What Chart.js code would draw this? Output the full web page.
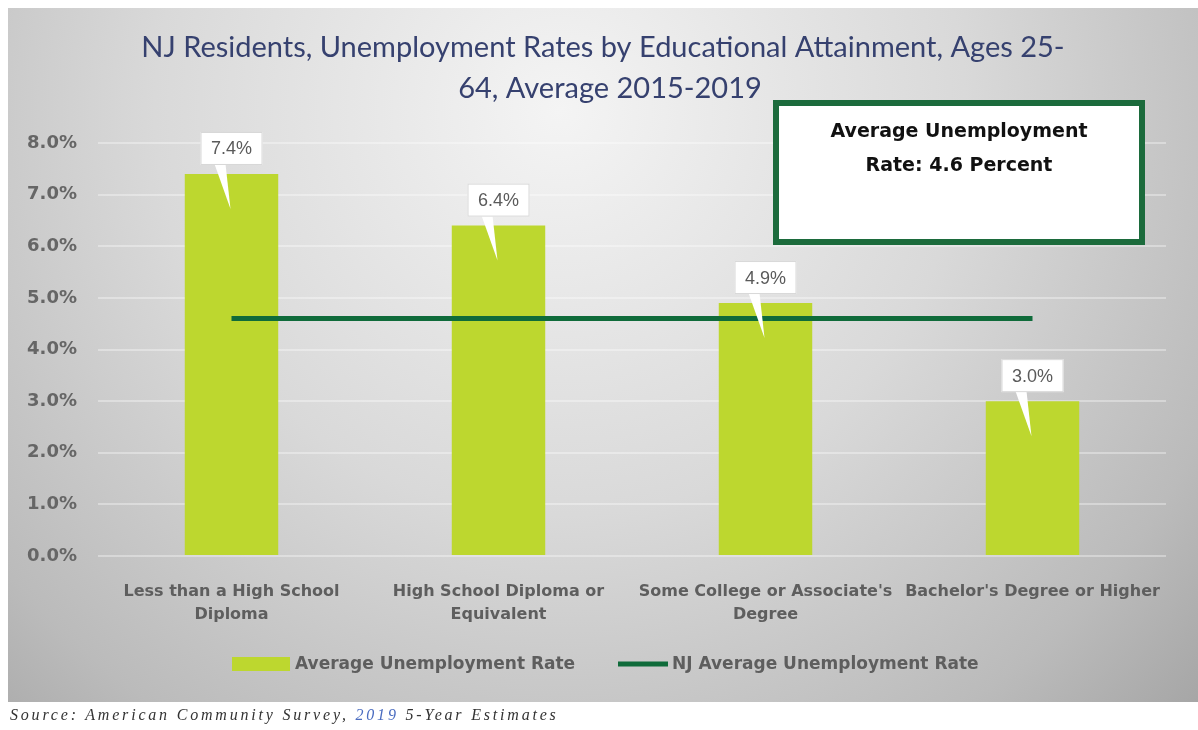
<!DOCTYPE html>
<html>
<head>
<meta charset="utf-8">
<script src="https://cdn.jsdelivr.net/npm/chart.js@4.4.1/dist/chart.umd.min.js"></script>
<style>
  html, body { margin: 0; padding: 0; background: #fff; }
  #wrap { position: relative; width: 1198px; height: 730px; }
  #fuente {
    position: absolute; left: 10px; top: 706px;
    font: italic 16px "Liberation Serif", "DejaVu Serif", serif;
    letter-spacing: 2.8px; color: #333;
  }
  #fuente span { color: #4a6cc0; }
</style>
</head>
<body>
<div id="wrap">
  <canvas id="grafica" width="1198" height="730"></canvas>
  <div id="fuente">Source: American Community Survey, <span>2019</span> 5-Year Estimates</div>
</div>
<script>
// datos
const categorias = [
    ['Less than a High School', 'Diploma'],
    ['High School Diploma or', 'Equivalent'],
    ["Some College or Associate's", 'Degree'],
    ["Bachelor's Degree or Higher"]
];
const tasas = [7.4, 6.4, 4.9, 3.0];
const promedioNJ = [4.6, 4.6, 4.6, 4.6];
const etiquetasSerie = ['Average Unemployment Rate', 'NJ Average Unemployment Rate'];
const tituloLineas = ['NJ Residents, Unemployment Rates by Educational Attainment, Ages 25-', '64, Average 2015-2019'];
const notaLineas = ['Average Unemployment', 'Rate: 4.6 Percent'];

const colorBarra = '#bdd72f';
const colorLinea = '#0f6b3a';
const grisTexto = '#5e5e5e';
const fuenteNegrita = '"DejaVu Sans", sans-serif';

// fondo gris del panel
const fondoPanel = {
    id: 'fondoPanel',
    beforeDraw(chart) {
        const ctx = chart.ctx;
        ctx.save();
        const g = ctx.createRadialGradient(560, 110, 0, 560, 110, 900);
        g.addColorStop(0, '#f4f4f4');
        g.addColorStop(0.45, '#d9d9d9');
        g.addColorStop(0.8, '#bbbbbb');
        g.addColorStop(1, '#a2a2a2');
        ctx.fillStyle = g;
        ctx.fillRect(8, 8, 1190, 694);
        ctx.restore();
    }
};

// titulo, globos de datos, recuadro y leyenda
const extras = {
    id: 'extras',
    afterDraw(chart) {
        const ctx = chart.ctx;
        ctx.save();

        ctx.fillStyle = '#36416f';
        ctx.font = '29px Lato, "Open Sans", sans-serif';
        ctx.textAlign = 'center';
        ctx.textBaseline = 'alphabetic';
        ctx.fillText(tituloLineas[0], 603, 57);
        ctx.fillText(tituloLineas[1], 610, 98);

        // globos con el valor
        const barras = chart.getDatasetMeta(0).data;
        barras.forEach((b, i) => {
            const w = 62, h = 33;
            const abajo = b.y - 9;
            ctx.fillStyle = '#ffffff';
            ctx.beginPath();
            ctx.moveTo(b.x - 17, abajo - 1);
            ctx.lineTo(b.x - 6, abajo - 1);
            ctx.lineTo(b.x - 1, b.y + 35);
            ctx.closePath();
            ctx.fill();
            ctx.fillRect(b.x - w / 2, abajo - h, w, h);
            ctx.strokeStyle = '#d8d8d8';
            ctx.lineWidth = 1;
            ctx.strokeRect(b.x - w / 2 + 0.5, abajo - h + 0.5, w - 1, h - 1);
            ctx.fillStyle = '#5a5a5a';
            ctx.font = '18px "Liberation Sans", Arial, sans-serif';
            ctx.textAlign = 'center';
            ctx.textBaseline = 'middle';
            ctx.fillText(tasas[i].toFixed(1) + '%', b.x, abajo - h / 2 + 1);
        });

        // recuadro con el promedio
        ctx.fillStyle = '#ffffff';
        ctx.fillRect(776, 103, 366, 139);
        ctx.strokeStyle = '#1c6b3c';
        ctx.lineWidth = 6;
        ctx.strokeRect(776, 103, 366, 139);
        ctx.fillStyle = '#111';
        ctx.font = 'bold 19px ' + fuenteNegrita;
        ctx.textAlign = 'center';
        ctx.textBaseline = 'middle';
        ctx.fillText(notaLineas[0], 959, 132);
        ctx.fillText(notaLineas[1], 959, 166);

        // leyenda
        ctx.fillStyle = colorBarra;
        ctx.fillRect(232, 657, 58, 14);
        ctx.strokeStyle = colorLinea;
        ctx.lineWidth = 5;
        ctx.beginPath();
        ctx.moveTo(618, 664);
        ctx.lineTo(668, 664);
        ctx.stroke();
        ctx.fillStyle = grisTexto;
        ctx.font = 'bold 17px ' + fuenteNegrita;
        ctx.textAlign = 'left';
        ctx.fillText(etiquetasSerie[0], 295, 665);
        ctx.fillText(etiquetasSerie[1], 672, 665);

        ctx.restore();
    }
};

new Chart(document.getElementById('grafica'), {
    type: 'bar',
    data: {
        labels: categorias,
        datasets: [
            {
                type: 'bar',
                label: etiquetasSerie[0],
                data: tasas,
                backgroundColor: colorBarra,
                barPercentage: 0.35,
                categoryPercentage: 1,
                order: 2
            },
            {
                type: 'line',
                label: etiquetasSerie[1],
                data: promedioNJ,
                borderColor: colorLinea,
                backgroundColor: colorLinea,
                borderWidth: 5,
                pointRadius: 0,
                order: 1
            }
        ]
    },
    options: {
        responsive: false,
        animation: false,
        layout: { padding: { top: 143, right: 32, bottom: 0, left: 0 } },
        plugins: {
            legend: { display: false },
            title: { display: false },
            tooltip: { enabled: false }
        },
        scales: {
            x: {
                grid: { display: false },
                border: { display: false },
                ticks: {
                    autoSkip: false,
                    maxRotation: 0,
                    padding: 16,
                    color: grisTexto,
                    font: { family: fuenteNegrita, weight: 'bold', size: 16, lineHeight: 1.45 }
                },
                afterFit: (s) => { s.height = 174; }
            },
            y: {
                min: 0,
                max: 8,
                grid: { color: 'rgba(255,255,255,0.35)', lineWidth: 2, drawTicks: false },
                border: { display: false },
                ticks: {
                    stepSize: 1,
                    padding: 21,
                    color: '#666',
                    font: { family: fuenteNegrita, weight: 'bold', size: 18 },
                    callback: (v) => v.toFixed(1) + '%'
                },
                afterFit: (s) => { s.width = 98; }
            }
        }
    },
    plugins: [fondoPanel, extras]
});
</script>
</body>
</html>
